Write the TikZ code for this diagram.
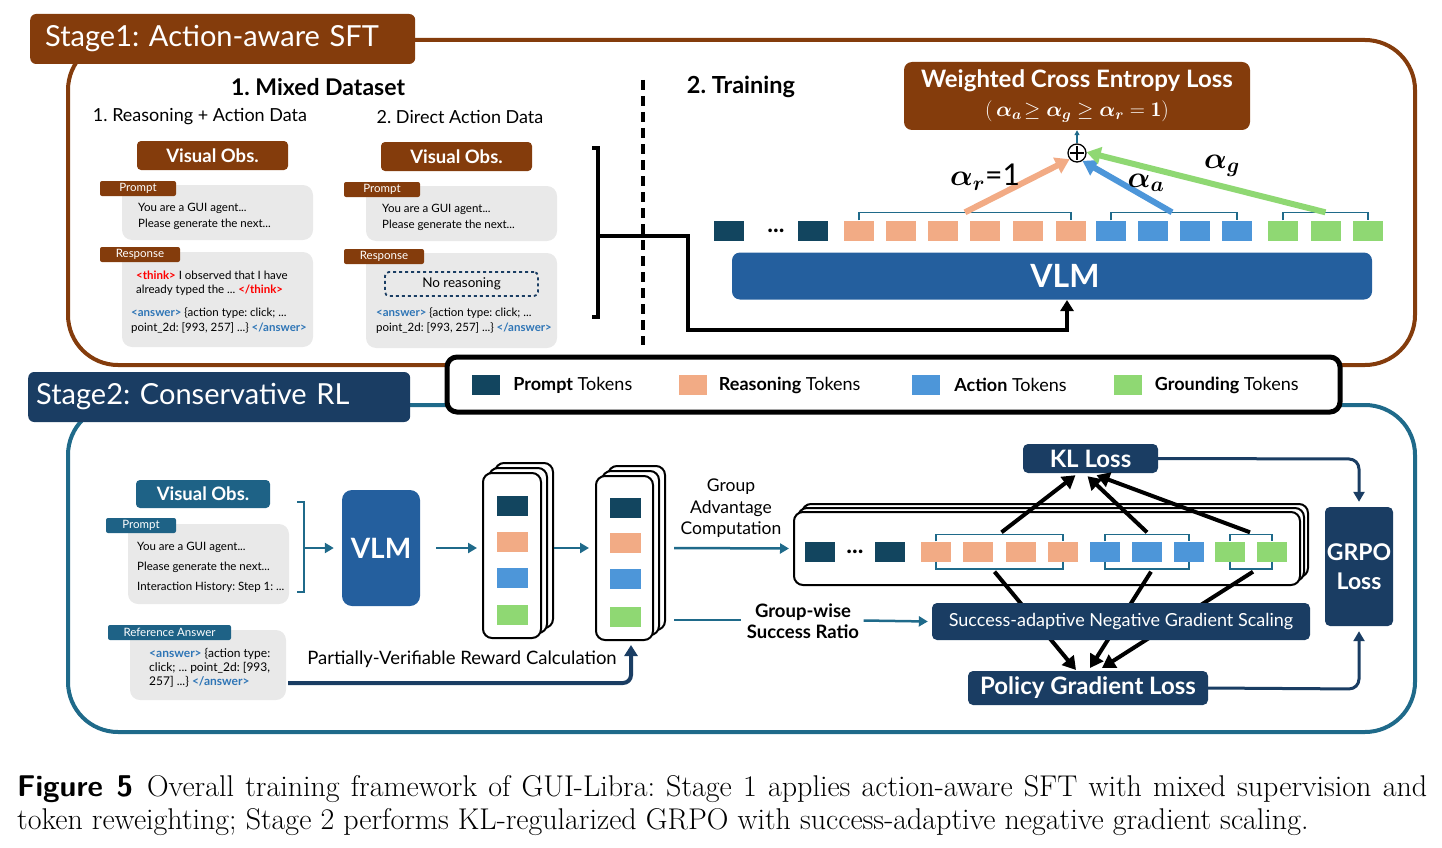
\RequirePackage{fix-cm}
\documentclass[tikz,border=0pt]{standalone}
\usepackage{fontspec}
\usepackage{amsmath,amssymb,bm}
\usepackage{tikz}
\usetikzlibrary{positioning}
\usetikzlibrary{calc}
\usetikzlibrary{arrows.meta}
\newfontfamily\lato{Lato}
\newcommand{\fsz}[2]{\lato\fontsize{#1}{#2}\selectfont}
\frenchspacing
\definecolor{brn}{HTML}{843C0C}
\definecolor{navy}{HTML}{1A3D63}
\definecolor{tealline}{HTML}{1F6A8A}
\definecolor{obsteal}{HTML}{1E6286}
\definecolor{vlmblue}{HTML}{245F9E}
\definecolor{tokp}{HTML}{12455F}
\definecolor{tokr}{HTML}{F2AB85}
\definecolor{toka}{HTML}{4D96D9}
\definecolor{tokg}{HTML}{8FD873}
\definecolor{boxgray}{HTML}{E9E9E9}
\definecolor{thinkred}{HTML}{FF0000}
\definecolor{ansblue}{HTML}{2E75B6}
\tikzstyle{tok}=[inner sep=0pt, minimum width=30pt, minimum height=20pt]
\tikzstyle{obs}=[rounded corners=4pt, minimum width=151pt, minimum height=29pt, text=white, font=\fsz{18.5}{20}\bfseries, inner sep=0pt]
\tikzstyle{gbox}=[fill=boxgray, rounded corners=10pt, inner sep=0pt]
\tikzstyle{tagbox}=[rounded corners=2pt, text=white, font=\fsz{11.5}{12}, inner sep=0pt, minimum height=15pt]
\tikzstyle{banner}=[anchor=west, rounded corners=6pt, minimum height=50pt, text=white, font=\fsz{29}{30}, align=left]
\tikzstyle{lbox}=[fill=navy, rounded corners=5pt, text=white, inner sep=0pt]
\tikzstyle{stk}=[draw=black, fill=white, line width=2pt, rounded corners=9pt, inner sep=0pt]
\tikzstyle{brk}=[tealline, line width=1.6pt]
\tikzstyle{tarrow}=[tealline, line width=2.5pt, -{Triangle[length=9pt,width=10pt]}]
\tikzstyle{barrow}=[black, line width=4pt, -{Triangle[length=13pt,width=15pt]}]
\tikzstyle{small}=[anchor=west, align=left, inner sep=0pt]
\begin{document}
\begin{tikzpicture}[x=1pt,y=-1pt]
\useasboundingbox (0,0) rectangle (1442,848);

% ---------------- Stage 1 ----------------
\draw[brn, line width=4pt, rounded corners=50pt] (68,40) rectangle (1415,365);
\node[banner, fill=brn, inner xsep=15pt, text width=355pt] (s1) at (30,39) {Stage1: Action-aware SFT};

\node[font=\fsz{23}{26}\bfseries] (md) at (318,87) {1. Mixed Dataset};
\node[font=\fsz{18}{20}] (rad) at (200,117) {1. Reasoning + Action Data};
\node[font=\fsz{18}{20}] (dad) at (460,117) {2. Direct Action Data};

% reasoning + action data
\node[obs, fill=brn] (vo1) at (212.5,155.5) {Visual Obs.};
\node[gbox, minimum width=191pt, minimum height=55pt] (pr1) at (217.5,212.5) {};
\node[gbox, minimum width=191pt, minimum height=95pt] (rs1) at (217.5,299.5) {};
\node[tagbox, fill=brn, minimum width=76pt] (pt1) at (138,188.5) {Prompt};
\node[tagbox, fill=brn, minimum width=80pt] (rt1) at (140,254.5) {Response};
\node[small, font=\fsz{11.5}{16}] at (138,216) {You are a GUI agent...\\Please generate the next...};
\node[small, font=\fsz{11.5}{14}] at (136,283) {\textcolor{thinkred}{\bfseries<think>} I observed that I have\\already typed the ... \textcolor{thinkred}{\bfseries</think>}};
\node[small, font=\fsz{11.5}{15}] at (131,320.5) {\textcolor{ansblue}{\bfseries<answer>} \{action type: click; ...\\point\_2d: [993, 257] ...\} \textcolor{ansblue}{\bfseries</answer>}};

% direct action data
\node[obs, fill=brn] (vo2) at (456.5,156.5) {Visual Obs.};
\node[gbox, minimum width=191pt, minimum height=55pt] (pr2) at (461.5,213.5) {};
\node[gbox, minimum width=191pt, minimum height=95pt] (rs2) at (461.5,300.5) {};
\node[tagbox, fill=brn, minimum width=76pt] (pt2) at (382,189.5) {Prompt};
\node[tagbox, fill=brn, minimum width=80pt] (rt2) at (384,256.5) {Response};
\node[small, font=\fsz{11.5}{16}] at (382,217) {You are a GUI agent...\\Please generate the next...};
\node[draw=navy, dashed, line width=1.8pt, rounded corners=4pt, minimum width=153pt, minimum height=24pt, font=\fsz{13.5}{14}] (nr) at (461.5,284) {No reasoning};
\node[small, font=\fsz{11.5}{15}] at (376,321) {\textcolor{ansblue}{\bfseries<answer>} \{action type: click; ...\\point\_2d: [993, 257] ...\} \textcolor{ansblue}{\bfseries</answer>}};

% bracket and separator
\draw[line width=4pt] (592,148) -- (598,148) -- (598,317) -- (592,317);
\coordinate (br) at (598,236);
\draw[line width=3.5pt, dash pattern=on 10pt off 6pt] (643,80) -- (643,345);

% training
\node[font=\fsz{23.5}{26}\bfseries] (tr) at (741,87) {2. Training};
\node[fill=brn, rounded corners=8pt, minimum width=346pt, minimum height=68pt, text=white, align=center, inner sep=0pt] (wce) at (1077,96)
  {{\fsz{24}{26}\bfseries Weighted Cross Entropy Loss}\\[8pt]{\fsz{21}{24}$(\,\bm{\alpha_a}\!\geq \bm{\alpha_g} \geq \bm{\alpha_r} = \mathbf{1})$}};
\node[draw, circle, line width=1.3pt, inner sep=0pt, minimum size=18pt, fill=white] (plus) at (1077,153) {};
\draw[line width=1.3pt] ($(plus.north)+(0,3)$) -- ($(plus.south)+(0,-3)$) ($(plus.west)+(3,0)$) -- ($(plus.east)+(-3,0)$);
\draw[tealline, line width=1.3pt, -{Triangle[length=5pt,width=5pt]}] (plus) -- (wce);

\node[fill=vlmblue, rounded corners=8pt, minimum width=640pt, minimum height=47pt, text=white, font=\fsz{32}{34}\bfseries] (vlm1) at (1052,276) {\hspace*{26pt}VLM};
\coordinate (vin) at (1067,300);
\draw[line width=4pt, -{Triangle[length=11pt,width=13pt]}] (br) -- (688,236) -- (688,330) -| (vin);

\foreach \x [count=\i] in {729,813} \node[tok, fill=tokp] (sp\i) at (\x,230.5) {};
\node[font=\fsz{24}{24}\bfseries] (dots1) at (776,231) {...};
\foreach \x [count=\i] in {859,901,943,985,1028,1071} \node[tok, fill=tokr] (sr\i) at (\x,230.5) {};
\foreach \x [count=\i] in {1111,1153,1195,1237} \node[tok, fill=toka] (sa\i) at (\x,230.5) {};
\foreach \x [count=\i] in {1283,1326,1368} \node[tok, fill=tokg] (sg\i) at (\x,230.5) {};
\draw[brk] (sr1.north) -- ++(0,-8) -| (sr6.north);
\draw[brk] (sa1.north) -- ++(0,-8) -| (sa4.north);
\draw[brk] (sg1.north) -- ++(0,-8) -| (sg3.north);
\coordinate (rb) at ($(sr1.north)!0.5!(sr6.north)+(0,-8)$);
\coordinate (ab) at ($(sa1.north)!0.5!(sa4.north)+(-2,-8)$);
\coordinate (gb) at ($(sg1.north)!0.5!(sg3.north)+(0,-8)$);
\draw[tokr, line width=6pt, -{Triangle[length=14pt,width=17pt]}] (rb) -- (plus.220);
\draw[toka, line width=6pt, -{Triangle[length=14pt,width=17pt]}] (ab) -- (plus.-55);
\draw[tokg, line width=6pt, -{Triangle[length=14pt,width=17pt]}] (gb) -- (plus.5);
\node[font=\fsz{30}{32}] at (985,177) {$\bm{\alpha_r}$=1};
\node[font=\fsz{30}{32}] at (1146,183) {$\bm{\alpha_a}$};
\node[font=\fsz{30}{32}] at (1222,166) {$\bm{\alpha_g}$};

% ---------------- Stage 2 ----------------
\draw[tealline, line width=4pt, rounded corners=50pt] (68,405) rectangle (1415,732);
\node[banner, fill=navy, inner xsep=8pt, text width=366pt] (s2) at (28,397) {Stage2: Conservative RL};

% legend
\node[draw=black, line width=5pt, fill=white, rounded corners=10pt, minimum width=893pt, minimum height=55pt] (leg) at (893.5,384.5) {};
\node[tok, fill=tokp, minimum width=28pt] (lp) at (486,385) {};
\node[right=13pt of lp, inner sep=0pt, font=\fsz{18}{20}] {\textbf{Prompt} Tokens};
\node[tok, fill=tokr, minimum width=28pt] (lr) at (692.5,385) {};
\node[right=12pt of lr, inner sep=0pt, font=\fsz{18}{20}] {\textbf{Reasoning} Tokens};
\node[tok, fill=toka, minimum width=28pt] (la) at (926,385) {};
\node[right=14pt of la, inner sep=0pt, font=\fsz{18}{20}] {\textbf{Action} Tokens};
\node[tok, fill=tokg, minimum width=28pt] (lg) at (1127.5,385) {};
\node[right=13pt of lg, inner sep=0pt, font=\fsz{18}{20}] {\textbf{Grounding} Tokens};

% inputs
\node[obs, fill=obsteal, minimum width=134pt, minimum height=28pt] (vo3) at (203,494) {Visual Obs.};
\node[gbox, minimum width=161pt, minimum height=80pt] (pr3) at (208.5,564) {};
\node[tagbox, fill=obsteal, minimum width=70pt] (pt3) at (141,525.5) {Prompt};
\node[small, font=\fsz{11.5}{20}] at (137,567) {You are a GUI agent...\\Please generate the next...\\Interaction History: Step 1: ...};
\draw[tealline, line width=2.5pt] (297,502) -- (304,502) -- (304,592) -- (297,592);
\coordinate (b3) at (304,548);
\node[fill=vlmblue, rounded corners=10pt, minimum width=78pt, minimum height=116pt, text=white, font=\fsz{28}{30}\bfseries] (vlm2) at (381,548) {VLM};
\draw[tarrow] (b3) -- ($(vlm2.west)+(-8,0)$);

\node[gbox, minimum width=156pt, minimum height=70pt] (ref) at (208,665) {};
\node[tagbox, fill=obsteal, minimum width=123pt] (rt3) at (169.5,632.5) {Reference Answer};
\node[small, font=\fsz{12}{14}] at (149,668) {\textcolor{ansblue}{\bfseries<answer>} \{action type:\\click; ... point\_2d: [993,\\257] ...\} \textcolor{ansblue}{\bfseries</answer>}};

% rollout groups
\foreach \d in {2,1} \node[stk, minimum width=58pt, minimum height=165pt] at ($(512,555.5)+(6*\d,-5*\d)$) {};
\node[stk, minimum width=58pt, minimum height=165pt] (grp1) at (512,555.5) {};
\foreach \c/\y in {tokp/506,tokr/542,toka/578,tokg/615} \node[tok, fill=\c, minimum width=31pt] at (512.5,\y) {};
\foreach \d in {2,1} \node[stk, minimum width=57pt, minimum height=164pt] at ($(624.5,558)+(6*\d,-5*\d)$) {};
\node[stk, minimum width=57pt, minimum height=164pt] (grp2) at (624.5,558) {};
\foreach \c/\y in {tokp/508,tokr/543,toka/579,tokg/617} \node[tok, fill=\c, minimum width=31pt] at (625.5,\y) {};
\draw[tarrow] ($(vlm2.east)+(16,0)$) -- ($(grp1.west)+(-5,-7.5)$);
\draw[tarrow] ($(grp1.east)+(12,-7.5)$) -- ($(grp2.west)+(-6,-10)$);
\node[font=\fsz{18.5}{20}] (pvr) at (462,659) {Partially-Verifiable Reward Calculation};
\draw[navy, line width=4pt, rounded corners=8pt, -{Triangle[length=11pt,width=13pt]}] ($(ref.east)+(2,18)$) -- (631,683) -- ($(grp2.south)+(6.5,4)$);

\node[align=center, font=\fsz{17.5}{21.5}] (gac) at (731,508.5) {Group\\Advantage\\Computation};
\node[align=center, font=\fsz{18.5}{21}\bfseries] (gw) at (803,621.5) {Group-wise\\Success Ratio};

% big group
\foreach \d in {2,1} \node[stk, minimum width=506pt, minimum height=73pt] at ($(1047,548.5)+(4*\d,-4*\d)$) {};
\node[stk, minimum width=506pt, minimum height=73pt] (bstk) at (1047,548.5) {};
\draw[tarrow] ($(grp2.east)+(20,-10)$) -- ($(bstk.west)+(-4,0)$);
\draw[tealline, line width=2.5pt] ($(grp2.east)+(20,62)$) -- ++(67,0);
\foreach \x [count=\i] in {820,890} \node[tok, fill=tokp] (tp\i) at (\x,551.5) {};
\node[font=\fsz{24}{24}\bfseries] (dots2) at (855,552) {...};
\foreach \x [count=\i] in {936,978,1021,1063} \node[tok, fill=tokr] (tr\i) at (\x,551.5) {};
\foreach \x [count=\i] in {1105,1147,1189} \node[tok, fill=toka] (ta\i) at (\x,551.5) {};
\foreach \x [count=\i] in {1230,1272} \node[tok, fill=tokg] (tg\i) at (\x,551.5) {};
\draw[brk] (tr1.north) -- ++(0,-7) -| (tr4.north);
\draw[brk] (ta1.north) -- ++(0,-7) -| (ta3.north);
\draw[brk] (tg1.north) -- ++(0,-7) -| (tg2.north);
\draw[brk] (tr1.south) -- ++(0,7) -| (tr4.south);
\draw[brk] (ta1.south) -- ++(0,7) -| (ta3.south);
\draw[brk] (tg1.south) -- ++(0,7) -| (tg2.south);

% losses
\node[lbox, minimum width=135pt, minimum height=29pt, font=\fsz{24}{26}\bfseries] (kl) at (1090.5,458.5) {KL Loss};
\node[lbox, minimum width=68pt, minimum height=119pt, align=center, font=\fsz{23}{29}\bfseries] (grpo) at (1359,566.5) {GRPO\\Loss};
\draw[barrow] ($(tr1.north)!0.5!(tr4.north)+(2,-9)$) -- ($(kl.south)+(-15,2)$);
\draw[barrow] ($(ta2.north)+(0,-9)$) -- ($(kl.south)+(-3,3)$);
\draw[barrow] ($(tg1.north)!0.5!(tg2.north)+(-1,-9)$) -- ($(kl.south)+(6,2)$);
\draw[barrow] ($(tr1.south)!0.5!(tr4.south)+(-5,10)$) -- (1076,670);
\draw[barrow] ($(ta2.south)+(4,10)$) -- (1090,668);
\draw[barrow] ($(tg1.south)!0.5!(tg2.south)+(2,10)$) -- (1102,668);
\node[lbox, minimum width=378pt, minimum height=37pt, font=\fsz{18}{20}] (sas) at (1121,621.5) {Success-adaptive Negative Gradient Scaling};
\node[lbox, minimum width=240pt, minimum height=34pt, font=\fsz{24}{26}\bfseries] (pgl) at (1088,688) {Policy Gradient Loss};
\draw[tarrow] ($(gw.east)+(1,-1)$) -- ($(sas.west)+(-4,0)$);
\draw[navy, line width=3pt, rounded corners=10pt, -{Triangle[length=10pt,width=11pt]}] (kl.east) -- (1359,459) -- ($(grpo.north)+(0,-5)$);
\draw[navy, line width=3pt, rounded corners=10pt, -{Triangle[length=10pt,width=11pt]}] (pgl.east) -- (1359,689) -- ($(grpo.south)+(0,5)$);

% caption
\node[anchor=north west, inner sep=0pt, text width=1410pt, align=justify, font=\fontsize{30}{33}\selectfont] (cap) at (17,775)
  {{\sffamily\bfseries Figure~5}\hspace{14pt}Overall training framework of GUI-Libra: Stage 1 applies action-aware SFT with mixed supervision and\linebreak token reweighting; Stage 2 performs KL-regularized GRPO with success-adaptive negative gradient scaling.};
\end{tikzpicture}
\end{document}
